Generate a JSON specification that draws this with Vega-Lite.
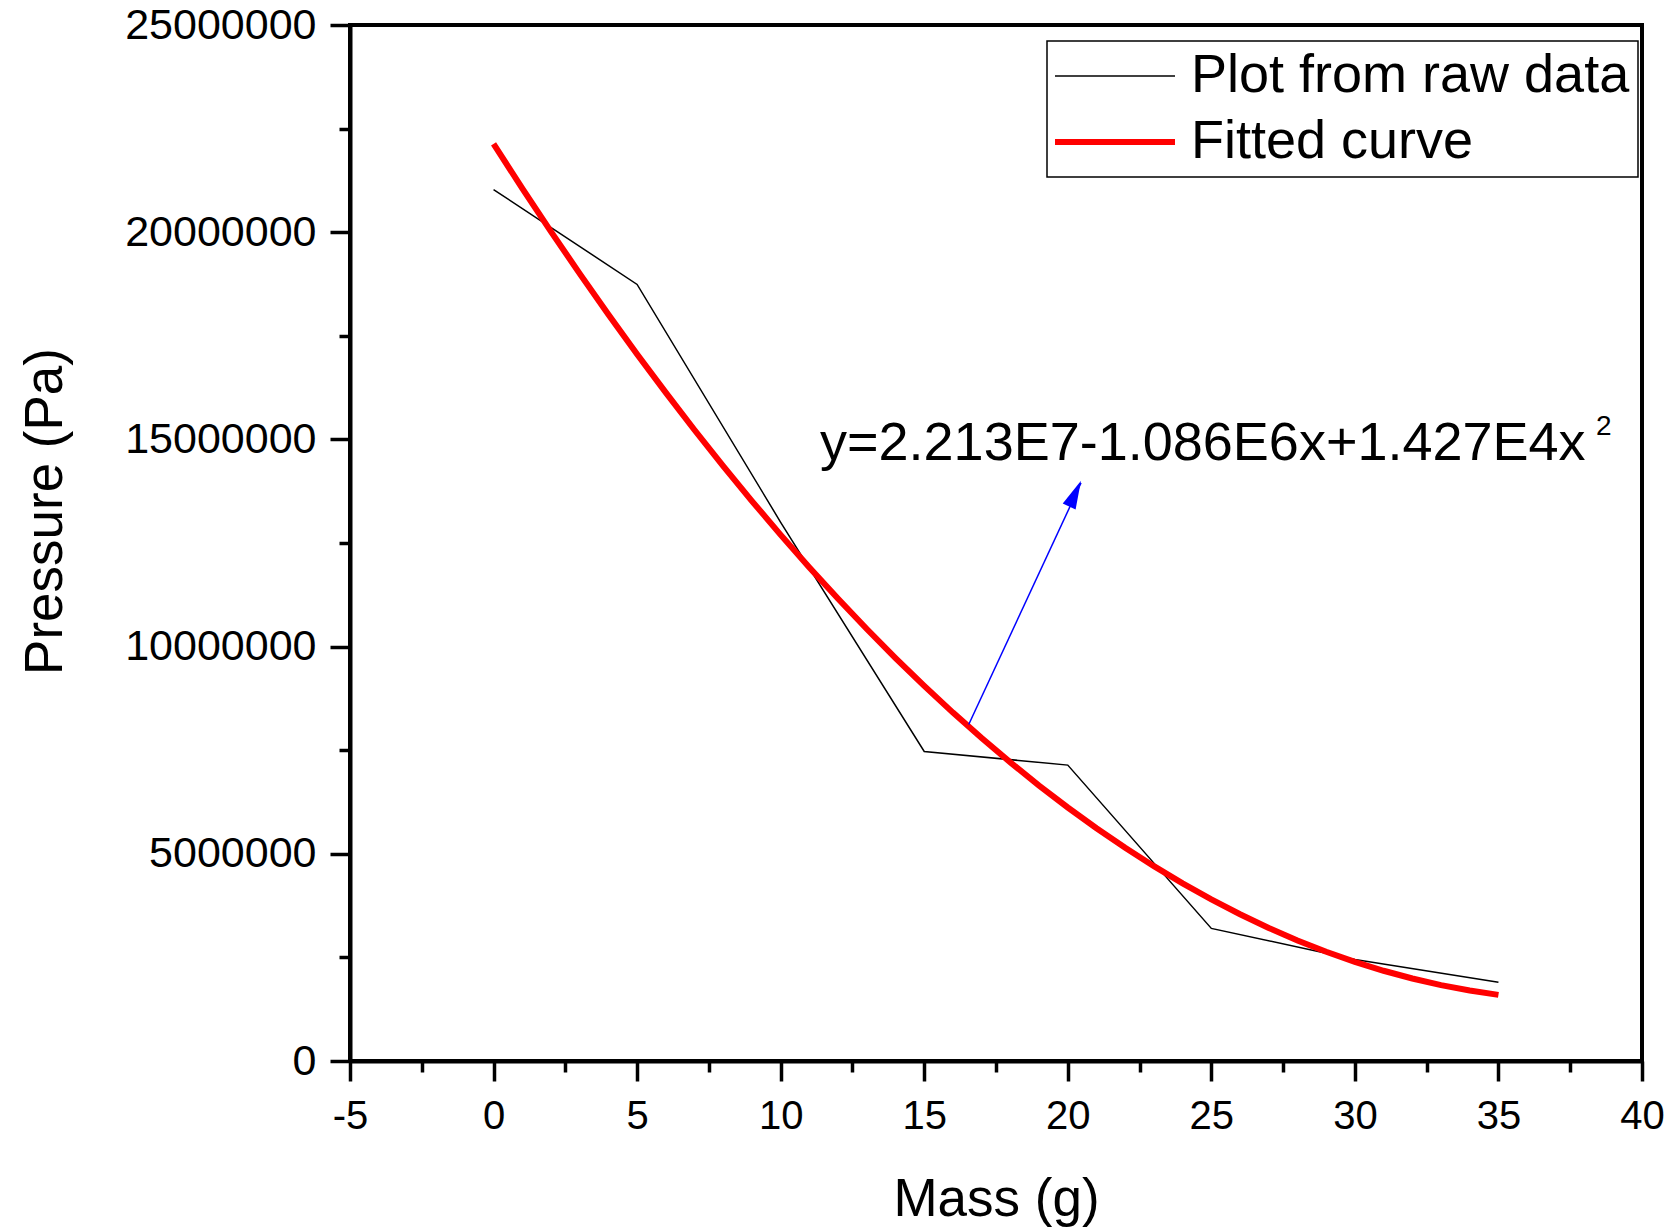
{
  "$schema": "https://vega.github.io/schema/vega-lite/v6.json",
  "width": 1292,
  "height": 1036,
  "autosize": {"type": "none"},
  "padding": {"left": 350, "top": 25, "right": 33, "bottom": 168},
  "background": "white",
  "config": {
    "view": {"stroke": "black", "strokeWidth": 4},
    "font": "Liberation Sans"
  },
  "datasets": {
    "raw": [
      {"mass": 0, "pressure": 21030000, "series": "Plot from raw data"},
      {"mass": 5, "pressure": 18740000, "series": "Plot from raw data"},
      {"mass": 10, "pressure": 13000000, "series": "Plot from raw data"},
      {"mass": 15, "pressure": 7470000, "series": "Plot from raw data"},
      {"mass": 20, "pressure": 7140000, "series": "Plot from raw data"},
      {"mass": 25, "pressure": 3200000, "series": "Plot from raw data"},
      {"mass": 30, "pressure": 2450000, "series": "Plot from raw data"},
      {"mass": 35, "pressure": 1900000, "series": "Plot from raw data"}
    ],
    "fit": [
      {"mass": 0, "pressure": 22130000, "series": "Fitted curve"},
      {"mass": 1, "pressure": 21058270, "series": "Fitted curve"},
      {"mass": 2, "pressure": 20015080, "series": "Fitted curve"},
      {"mass": 3, "pressure": 19000430, "series": "Fitted curve"},
      {"mass": 4, "pressure": 18014320, "series": "Fitted curve"},
      {"mass": 5, "pressure": 17056750, "series": "Fitted curve"},
      {"mass": 6, "pressure": 16127720, "series": "Fitted curve"},
      {"mass": 7, "pressure": 15227230, "series": "Fitted curve"},
      {"mass": 8, "pressure": 14355280, "series": "Fitted curve"},
      {"mass": 9, "pressure": 13511870, "series": "Fitted curve"},
      {"mass": 10, "pressure": 12697000, "series": "Fitted curve"},
      {"mass": 11, "pressure": 11910670, "series": "Fitted curve"},
      {"mass": 12, "pressure": 11152880, "series": "Fitted curve"},
      {"mass": 13, "pressure": 10423630, "series": "Fitted curve"},
      {"mass": 14, "pressure": 9722920, "series": "Fitted curve"},
      {"mass": 15, "pressure": 9050750, "series": "Fitted curve"},
      {"mass": 16, "pressure": 8407120, "series": "Fitted curve"},
      {"mass": 17, "pressure": 7792030, "series": "Fitted curve"},
      {"mass": 18, "pressure": 7205480, "series": "Fitted curve"},
      {"mass": 19, "pressure": 6647470, "series": "Fitted curve"},
      {"mass": 20, "pressure": 6118000, "series": "Fitted curve"},
      {"mass": 21, "pressure": 5617070, "series": "Fitted curve"},
      {"mass": 22, "pressure": 5144680, "series": "Fitted curve"},
      {"mass": 23, "pressure": 4700830, "series": "Fitted curve"},
      {"mass": 24, "pressure": 4285520, "series": "Fitted curve"},
      {"mass": 25, "pressure": 3898750, "series": "Fitted curve"},
      {"mass": 26, "pressure": 3540520, "series": "Fitted curve"},
      {"mass": 27, "pressure": 3210830, "series": "Fitted curve"},
      {"mass": 28, "pressure": 2909680, "series": "Fitted curve"},
      {"mass": 29, "pressure": 2637070, "series": "Fitted curve"},
      {"mass": 30, "pressure": 2393000, "series": "Fitted curve"},
      {"mass": 31, "pressure": 2177470, "series": "Fitted curve"},
      {"mass": 32, "pressure": 1990480, "series": "Fitted curve"},
      {"mass": 33, "pressure": 1832030, "series": "Fitted curve"},
      {"mass": 34, "pressure": 1702120, "series": "Fitted curve"},
      {"mass": 35, "pressure": 1595750, "series": "Fitted curve"}
    ],
    "arrow": [
      {"mass": 16.55, "pressure": 8120000},
      {"mass": 20.46, "pressure": 13950000}
    ],
    "arrowhead": [
      {"mass": 20.46, "pressure": 14000000}
    ],
    "equation": [
      {"mass": 11.37, "pressure": 14510000, "label": "y=2.213E7-1.086E6x+1.427E4x"}
    ],
    "superscript": [
      {"mass": 38.4, "pressure": 15100000, "label": "2"}
    ]
  },
  "encoding": {
    "x": {
      "field": "mass",
      "type": "quantitative",
      "scale": {"domain": [-5, 40], "nice": false, "zero": false},
      "axis": {
        "title": "Mass (g)",
        "titleFontSize": 53,
        "titleFont": "Liberation Sans",
        "titleFontWeight": "normal",
        "titleColor": "black",
        "titleBaseline": "alphabetic",
        "titleY": 154,
        "values": [-5, -2.5, 0, 2.5, 5, 7.5, 10, 12.5, 15, 17.5, 20, 22.5, 25, 27.5, 30, 32.5, 35, 37.5, 40],
        "labelExpr": "datum.value % 5 === 0 ? '' + datum.value : ''",
        "labelFont": "Liberation Sans",
        "labelFontSize": 40,
        "labelColor": "black",
        "labelPadding": 15,
        "labelBaseline": "top",
        "labelOverlap": false,
        "labelFlush": false,
        "labelLimit": 0,
        "tickSize": {"condition": {"test": "datum.value % 5 === 0", "value": 20}, "value": 11},
        "tickWidth": 3.5,
        "tickColor": "black",
        "domainColor": "black",
        "domainWidth": 4,
        "grid": false
      }
    },
    "y": {
      "field": "pressure",
      "type": "quantitative",
      "scale": {"domain": [0, 25000000], "nice": false},
      "axis": {
        "title": "Pressure (Pa)",
        "titleFontSize": 53,
        "titleFont": "Liberation Sans",
        "titleFontWeight": "normal",
        "titleColor": "black",
        "titleAngle": -90,
        "titleAlign": "center",
        "titleBaseline": "alphabetic",
        "titleX": -289,
        "titleY": 486,
        "values": [0, 2500000, 5000000, 7500000, 10000000, 12500000, 15000000, 17500000, 20000000, 22500000, 25000000],
        "labelExpr": "datum.value % 5000000 === 0 ? '' + datum.value : ''",
        "labelFont": "Liberation Sans",
        "labelFontSize": 43,
        "labelColor": "black",
        "labelPadding": 14,
        "labelOverlap": false,
        "labelFlush": false,
        "labelLimit": 0,
        "tickSize": {"condition": {"test": "datum.value % 5000000 === 0", "value": 20}, "value": 11},
        "tickWidth": 3.5,
        "tickColor": "black",
        "domainColor": "black",
        "domainWidth": 4,
        "grid": false
      }
    }
  },
  "layer": [
    {
      "data": {"name": "raw"},
      "mark": {"type": "line", "strokeWidth": 1.5},
      "encoding": {
        "color": {
          "field": "series",
          "type": "nominal",
          "scale": {"domain": ["Plot from raw data", "Fitted curve"], "range": ["black", "red"]},
          "legend": {
            "orient": "none",
            "legendX": 697,
            "legendY": 16,
            "title": null,
            "symbolType": "stroke",
            "symbolSize": 14400,
            "symbolStrokeWidth": 1.5,
            "labelFontSize": 54,
            "labelFont": "Liberation Sans",
            "labelColor": "black",
            "labelLimit": 0,
            "labelOffset": 82,
            "fillColor": "white",
            "strokeColor": "black",
            "padding": 8,
            "rowPadding": 12,
            "encode": {
              "symbols": {"update": {"x": {"value": 60}, "strokeWidth": {"signal": "datum.value === 'Fitted curve' ? 6 : 1.5"}}},
              "legend": {"update": {"strokeWidth": {"value": 1.5}}}
            }
          }
        }
      }
    },
    {
      "data": {"name": "fit"},
      "mark": {"type": "line", "strokeWidth": 6},
      "encoding": {
        "color": {"field": "series", "type": "nominal"}
      }
    },
    {
      "data": {"name": "arrow"},
      "mark": {"type": "line", "color": "blue", "strokeWidth": 1.5},
      "encoding": {}
    },
    {
      "data": {"name": "arrowhead"},
      "mark": {"type": "point", "shape": "M0,0L0.5,2L-0.5,2Z", "filled": true, "color": "blue", "opacity": 1, "size": 800, "angle": 24.7},
      "encoding": {}
    },
    {
      "data": {"name": "equation"},
      "mark": {"type": "text", "align": "left", "baseline": "alphabetic", "fontSize": 54, "font": "Liberation Sans", "color": "black"},
      "encoding": {"text": {"field": "label"}}
    },
    {
      "data": {"name": "superscript"},
      "mark": {"type": "text", "align": "left", "baseline": "alphabetic", "fontSize": 28, "font": "Liberation Sans", "color": "black"},
      "encoding": {"text": {"field": "label"}}
    }
  ]
}
